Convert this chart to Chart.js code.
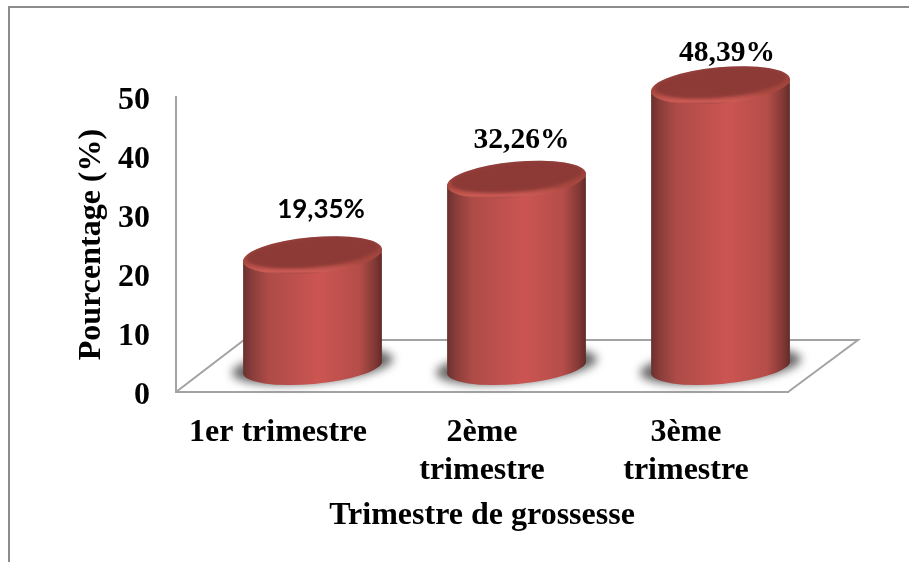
<!DOCTYPE html>
<html>
<head>
<meta charset="utf-8">
<script src="https://cdn.jsdelivr.net/npm/chart.js@4"></script>
<style>
  html, body { margin: 0; padding: 0; background: #fff; overflow: hidden; }
  #frame { position: absolute; left: 8px; top: 6px; right: -4px; bottom: -4px; border-left: 2px solid #8c8c8c; border-top: 2px solid #8c8c8c; }
  canvas { position: absolute; left: 0; top: 0; }
</style>
</head>
<body>
<div id="frame"></div>
<canvas id="trimestreChart" width="909" height="562"></canvas>
<script>
const trimestres = ["1er trimestre", ["2ème", "trimestre"], ["3ème", "trimestre"]];
const pourcentages = [19.35, 32.26, 48.39];
const etiquettes = ["19,35%", "32,26%", "48,39%"];
const yTicks = [0, 10, 20, 30, 40, 50];

const serif = "'Liberation Serif', 'Times New Roman', serif";
const grisAxe = "#a3a3a3";

// decalage de la fausse 3D
const shiftX = 34.5;
const shiftY = -25;
const floorDX = 68;
const floorDY = -52;
const barPct = 0.679;

// ellipse des cylindres
const rx = 69.8;
const ryTop = 18;
const ryBase = 17;
const topDrop = 1.5;
const tilt = -5.2 * Math.PI / 180;
// ecart des etiquettes par rapport au haut de la barre
const labelNudge = [[8.5, -45.5], [5, -39.5], [6.5, -31.5]];

function sideGradient(ctx, cx, hw) {
  const g = ctx.createLinearGradient(cx - hw, 0, cx + hw, 0);
  g.addColorStop(0, "#6a302e");
  g.addColorStop(0.06, "#883d3a");
  g.addColorStop(0.18, "#ad4b47");
  g.addColorStop(0.55, "#cc5552");
  g.addColorStop(0.84, "#b44d49");
  g.addColorStop(0.95, "#823935");
  g.addColorStop(1, "#632b29");
  return g;
}

function ellipseAt(ctx, cx, cy) {
  ctx.moveTo(cx + rx * Math.cos(tilt), cy + rx * Math.sin(tilt));
  ctx.ellipse(cx, cy, rx, ryBase, tilt, 0, Math.PI * 2);
  ctx.closePath();
}

function sidesPath(ctx, bar) {
  const hw = bar.width / 2;
  const dy = (rx * rx - ryBase * ryBase) * Math.sin(-tilt) * Math.cos(tilt) / hw;
  ctx.moveTo(bar.x - hw, bar.y + topDrop + dy);
  ctx.lineTo(bar.x + hw, bar.y + topDrop - dy);
  ctx.lineTo(bar.x + hw, bar.base - dy);
  ctx.lineTo(bar.x - hw, bar.base + dy);
  ctx.closePath();
}

const cylindres = {
  id: "cylindres",
  beforeDatasetsDraw(chart) {
    const { ctx, chartArea: a } = chart;
    ctx.save();
    ctx.strokeStyle = grisAxe;
    ctx.lineWidth = 2;
    ctx.beginPath();
    ctx.moveTo(a.left, a.bottom);
    ctx.lineTo(a.left + floorDX, a.bottom + floorDY);
    ctx.lineTo(a.right + floorDX + 2, a.bottom + floorDY);
    ctx.lineTo(a.right, a.bottom);
    ctx.stroke();
    ctx.restore();
  },
  beforeDatasetDraw(chart, args) {
    const ctx = chart.ctx;
    const bars = chart.getDatasetMeta(args.index).data;
    ctx.save();
    ctx.translate(shiftX, shiftY);
    bars.forEach((bar) => {
      // ombre au sol
      ctx.save();
      ctx.filter = "blur(5px)";
      ctx.fillStyle = "#666666";
      ctx.beginPath();
      ctx.ellipse(bar.x, bar.base - 1, rx + 11, ryBase, tilt, 0, Math.PI * 2);
      ctx.fill();
      ctx.restore();
      // fond du cylindre
      ctx.fillStyle = sideGradient(ctx, bar.x, bar.width / 2);
      ctx.beginPath();
      ellipseAt(ctx, bar.x, bar.base);
      sidesPath(ctx, bar);
      ctx.fill();
    });
    // les barres restent dans la silhouette
    ctx.beginPath();
    bars.forEach((bar) => {
      ellipseAt(ctx, bar.x, bar.base);
      sidesPath(ctx, bar);
    });
    ctx.clip();
  },
  afterDatasetDraw(chart, args) {
    const ctx = chart.ctx;
    ctx.restore();
    const bars = chart.getDatasetMeta(args.index).data;
    bars.forEach((bar, i) => {
      const cx = bar.x + shiftX;
      const cy = bar.y + shiftY + topDrop;
      // dessus du cylindre avec son biseau
      ctx.save();
      const rim = ctx.createLinearGradient(0, cy - ryTop, 0, cy + ryTop);
      rim.addColorStop(0, "#94403c");
      rim.addColorStop(0.7, "#a8483f");
      rim.addColorStop(0.95, "#cc5a55");
      rim.addColorStop(1, "#b34e4a");
      ctx.fillStyle = rim;
      ctx.beginPath();
      ctx.ellipse(cx, cy, rx, ryTop, tilt, 0, Math.PI * 2);
      ctx.fill();
      ctx.beginPath();
      ctx.ellipse(cx, cy, rx, ryTop, tilt, 0, Math.PI * 2);
      ctx.clip();
      ctx.filter = "blur(1.5px)";
      ctx.fillStyle = "#8d3a37";
      ctx.beginPath();
      ctx.ellipse(cx, cy - 2.5, rx - 4, ryTop - 3.5, tilt, 0, Math.PI * 2);
      ctx.fill();
      ctx.restore();

      ctx.save();
      ctx.fillStyle = "#000";
      ctx.textAlign = "center";
      ctx.textBaseline = "middle";
      ctx.font = i === 0 ? "bold 26px Lato, sans-serif" : "bold 29.5px " + serif;
      ctx.fillText(etiquettes[i], cx + labelNudge[i][0], cy + labelNudge[i][1]);
      ctx.restore();
    });
  }
};

new Chart("trimestreChart", {
  type: "bar",
  data: {
    labels: trimestres,
    datasets: [{
      data: pourcentages,
      yAxisID: "yBars",
      clip: false,
      borderWidth: 0,
      barPercentage: barPct,
      categoryPercentage: 1,
      backgroundColor: (c) => {
        const sx = c.chart.scales.x;
        const cx = sx ? sx.getPixelForValue(c.dataIndex) : NaN;
        if (!Number.isFinite(cx)) return "#cc5552";
        const hw = sx.width / trimestres.length * barPct / 2;
        return sideGradient(c.chart.ctx, cx, hw);
      }
    }]
  },
  options: {
    responsive: false,
    animation: false,
    layout: { padding: { top: 97, right: 121, left: 0, bottom: 0 } },
    plugins: { legend: { display: false }, tooltip: { enabled: false } },
    scales: {
      x: {
        afterFit: (s) => { s.height = 170; },
        grid: { display: false, drawTicks: false },
        border: { color: grisAxe, width: 2 },
        ticks: {
          color: "#000",
          padding: 22,
          maxRotation: 0,
          autoSkip: false,
          font: { family: serif, size: 32, weight: "bold", lineHeight: 1.19 }
        },
        title: {
          display: true,
          text: "Trimestre de grossesse",
          color: "#000",
          padding: { top: 0, bottom: 27 },
          font: { family: serif, size: 32, weight: "bold", lineHeight: 1.2 }
        }
      },
      y: {
        min: yTicks[0],
        max: yTicks[yTicks.length - 1],
        afterFit: (s) => { s.width = 176; },
        afterBuildTicks: (s) => { s.ticks = yTicks.map((v) => ({ value: v })); },
        grid: { display: false, drawTicks: false },
        border: { color: grisAxe, width: 2 },
        ticks: {
          color: "#000",
          padding: 26,
          labelOffset: 3.5,
          font: { family: serif, size: 32, weight: "bold" }
        },
        title: {
          display: true,
          text: "Pourcentage (%)",
          color: "#000",
          padding: { top: 73, bottom: 0 },
          font: { family: serif, size: 32, weight: "bold", lineHeight: 1.2 }
        }
      },
      // echelle des cylindres, un peu plus serree que l'axe visible
      yBars: { display: false, min: 0, max: 50.4 }
    }
  },
  plugins: [cylindres]
});
</script>
</body>
</html>
